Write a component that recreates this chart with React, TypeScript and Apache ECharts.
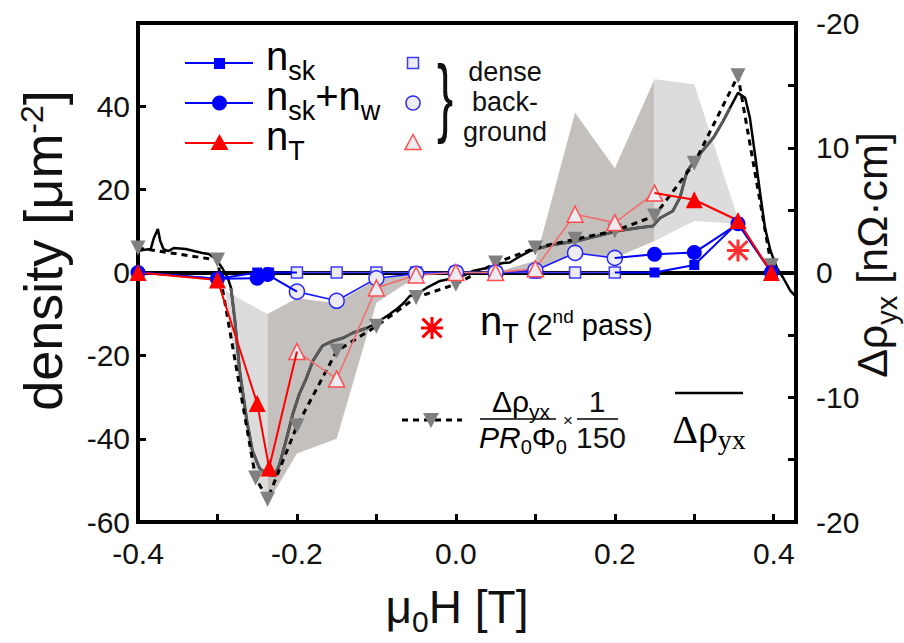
import React, { useEffect, useRef } from 'react';
import * as echarts from 'echarts';

// ---------------- data ----------------
// field values (T) and densities (µm^-2)
const nSkFilledLeft = [[-0.4, 0], [-0.3, -1.5], [-0.25, 0], [-0.235, 0]];
const nSkFilledRight = [[0.25, 0], [0.3, 1.8], [0.355, 12], [0.397, 0]];
const nSkOpen = [[-0.2, 0], [-0.15, 0], [-0.1, 0], [-0.05, 0], [0, 0], [0.05, 0], [0.1, 0], [0.15, 0], [0.2, 0]];

const nSkwFilledLeft = [[-0.4, 0], [-0.3, -1.5], [-0.25, -1.4], [-0.237, -0.5]];
const nSkwFilledRight = [[0.25, 4.4], [0.3, 4.8], [0.355, 11.7], [0.397, 0]];
const nSkwOpen = [[-0.2, -4.6], [-0.15, -6.8], [-0.1, -1.4], [-0.05, -0.3], [0, 0], [0.05, 0], [0.1, 0.5], [0.15, 4.7], [0.2, 3.5]];

const nTFilledLeft = [[-0.4, 0], [-0.3, -1.8], [-0.25, -31.5], [-0.235, -47]];
const nTFilledRight = [[0.3, 17.5], [0.355, 12.5], [0.397, 0]];
const nTOpen = [[-0.2, -19], [-0.15, -25.6], [-0.1, -3.7], [-0.05, -0.6], [0, 0], [0.05, 0], [0.1, 0.9], [0.15, 14], [0.2, 12], [0.25, 19.1]];

const nT2ndPass = [[0.355, 5.3]];

// Δρyx/(P R0 Φ0) × 1/150 (density units)
const rhoScaled = [[-0.4, 5.9], [-0.3, 3], [-0.252, -49.4], [-0.237, -54.5], [-0.2, -36.9], [-0.15, -18.9], [-0.1, -12.9], [-0.05, -6], [0, -2.8], [0.05, 2.3], [0.1, 5.9], [0.15, 8], [0.2, 10], [0.25, 13.6], [0.3, 26.3], [0.355, 47.3], [0.397, 1.6]];

// Δρyx (nΩ·cm), right axis
const rhoCurve = [[-0.4, 1.72], [-0.394, 1.8], [-0.384, 1.88], [-0.38, 2.77], [-0.375, 3.49], [-0.372, 2.53], [-0.368, 1.88], [-0.362, 1.72], [-0.355, 1.96], [-0.34, 1.88], [-0.319, 1.56], [-0.311, 1.48], [-0.302, 1.08], [-0.294, 0.36], [-0.287, -0.44], [-0.283, -1.24], [-0.278, -3.89], [-0.272, -7.9], [-0.263, -11.9], [-0.256, -14.3], [-0.247, -15.7], [-0.237, -16.2], [-0.228, -16.3], [-0.222, -15.4], [-0.213, -13.3], [-0.205, -11.3], [-0.197, -9.74], [-0.188, -8.46], [-0.18, -7.09], [-0.168, -5.89], [-0.155, -5.49], [-0.142, -5.25], [-0.13, -4.85], [-0.112, -4.45], [-0.1, -4.05], [-0.083, -3.33], [-0.074, -2.9], [-0.067, -2.53], [-0.058, -1.88], [-0.048, -1.7], [-0.037, -1.24], [-0.02, -0.68], [-0.008, -0.52], [0.001, -0.44], [0.014, -0.12], [0.021, 0.12], [0.039, 0.36], [0.059, 0.76], [0.068, 0.8], [0.077, 1.16], [0.093, 1.72], [0.106, 1.96], [0.12, 2.2], [0.152, 2.53], [0.178, 2.93], [0.203, 3.33], [0.228, 3.57], [0.248, 3.73], [0.257, 4.37], [0.273, 4.93], [0.282, 6.0], [0.291, 8.14], [0.307, 9.5], [0.324, 10.8], [0.336, 12.1], [0.345, 13.2], [0.355, 14.4], [0.364, 14.0], [0.37, 12.4], [0.377, 9.18], [0.383, 6.29], [0.389, 3.57], [0.396, 1.72], [0.404, 0.36], [0.412, -0.44], [0.421, -1.48], [0.427, -1.88]];
const rhoGrayDip = [[-0.283, -1.24], [-0.278, -3.89], [-0.272, -7.9], [-0.263, -11.9], [-0.256, -14.3], [-0.247, -15.7], [-0.237, -16.2], [-0.228, -16.3], [-0.222, -15.4], [-0.213, -13.3], [-0.205, -11.3], [-0.197, -9.74], [-0.188, -8.46], [-0.18, -7.09], [-0.168, -5.89], [-0.155, -5.49], [-0.142, -5.25], [-0.13, -4.85], [-0.112, -4.45]];
const rhoGrayRise = [[0.106, 1.96], [0.12, 2.2], [0.152, 2.53], [0.178, 2.93], [0.203, 3.33], [0.228, 3.57], [0.248, 3.73], [0.257, 4.37], [0.273, 4.93], [0.282, 6.0], [0.291, 8.14], [0.307, 9.5], [0.324, 10.8], [0.336, 12.1], [0.345, 13.2]];

// shaded ranges [field, low, high]
const bandLightLeft = [[-0.29, -4.4, -4.4], [-0.276, -23.7, -5.9], [-0.256, -47.7, -8.0], [-0.237, -55.5, -10]];
const bandDarkLeft = [[-0.237, -55.5, -10], [-0.2, -43.5, -6.2], [-0.15, -40, -7.4], [-0.1, -7.3, -1.6], [-0.05, -1, -0.3], [0, 0, 0]];
const bandDarkRight = [[0.05, 0, 0], [0.1, 0.5, 2.8], [0.15, 4.7, 38.4], [0.2, 3.5, 25.1], [0.25, 7.6, 46.5]];
const bandLightRight = [[0.25, 7.6, 46.5], [0.3, 12.4, 45.3], [0.355, 11.7, 13], [0.397, 0.3, 0.3]];

// axis ticks
const xTicks = { min: -0.4, max: 0.428, interval: 0.1 };
const yLeftTicks = { min: -60, max: 60, interval: 20 };
const yRightTicks = { min: -20, max: 20, interval: 5 };

// ---------------- styles ----------------
const FONT = '"Liberation Sans", Arial, Helvetica, sans-serif';
const SERIF = '"Liberation Serif", "Times New Roman", serif';
const BLUE = '#0000ff';
const RED = '#ff0000';
const OPEN_FILL = '#ececf2';
const TXT = '#111';

const ASTERISK = 'M8.6,0H11.4V20H8.6Z M0,8.6H20V11.4H0Z M0.41,2.39L2.39,0.41L19.59,17.61L17.61,19.59Z M2.39,19.59L0.41,17.61L17.61,0.41L19.59,2.39Z';
echarts.graphic.registerShape('asteriskShape', echarts.graphic.extendPath(ASTERISK, {}));

function bandSeries(band: number[][], color: string, extra: any = {}) {
  return {
    type: 'custom',
    yAxisIndex: 0,
    silent: true,
    z: 1,
    data: band,
    encode: { x: 0, y: [1, 2] },
    renderItem: (params: any, api: any) => {
      if (params.dataIndex !== 0) return null;
      const upper = band.map((d) => api.coord([d[0], d[2]]));
      const lower = band.map((d) => api.coord([d[0], d[1]])).reverse();
      return { type: 'polygon', shape: { points: upper.concat(lower) }, style: { fill: color } };
    },
    ...extra,
  };
}

function filledSeries(data: any[], symbol: string, size: number, color: string) {
  return {
    type: 'line',
    yAxisIndex: 0,
    data,
    symbol,
    symbolSize: size,
    showAllSymbol: true,
    itemStyle: { color },
    lineStyle: { color, width: 2 },
    z: 6,
  };
}

function openSeries(data: number[][], symbol: string, size: number, border: string, lineColor: string) {
  return {
    type: 'line',
    yAxisIndex: 0,
    data,
    symbol,
    symbolSize: size,
    showAllSymbol: true,
    itemStyle: { color: OPEN_FILL, borderColor: border, borderWidth: 1.5 },
    lineStyle: { color: lineColor, width: 1.6 },
    z: 5,
  };
}

const hidden = (p: number[]) => ({ value: p, symbol: 'none' });

const sub = (size: number, pad: number, extra: any = {}) => ({ fontSize: size, fontFamily: FONT, color: TXT, verticalAlign: 'top', padding: [pad, 0, 0, 0], ...extra });

function buildOption() {
  const series: any[] = [
    bandSeries(bandLightLeft, '#dcdcdc'),
    bandSeries(bandDarkLeft, '#c4c0be', {
      markLine: {
        silent: true,
        symbol: 'none',
        label: { show: false },
        lineStyle: { color: '#000', width: 4, type: 'solid' },
        data: [{ yAxis: 0 }],
      },
    }),
    bandSeries(bandDarkRight, '#c4c0be'),
    bandSeries(bandLightRight, '#dcdcdc'),
    { type: 'line', yAxisIndex: 1, data: rhoCurve, showSymbol: false, lineStyle: { color: '#000', width: 2.5 }, z: 3 },
    { type: 'line', yAxisIndex: 1, data: rhoGrayDip, showSymbol: false, lineStyle: { color: '#595959', width: 3 }, z: 3 },
    { type: 'line', yAxisIndex: 1, data: rhoGrayRise, showSymbol: false, lineStyle: { color: '#595959', width: 3 }, z: 3 },
    {
      type: 'line', yAxisIndex: 0, data: rhoScaled, symbol: 'triangle', symbolRotate: 180, symbolSize: 15, showAllSymbol: true,
      itemStyle: { color: '#808080' }, lineStyle: { color: '#000', width: 3, type: [6, 5] }, z: 4,
    },
    openSeries(nSkOpen, 'rect', 11, '#3c3cff', '#3c3cff'),
    openSeries(nSkwOpen, 'circle', 15, '#2a2aff', '#1a1aff'),
    openSeries(nTOpen, 'triangle', 16, '#ff4c4c', '#f07070'),
    filledSeries([...nSkFilledLeft, hidden(nSkOpen[0])], 'rect', 10, BLUE),
    filledSeries([hidden(nSkOpen[nSkOpen.length - 1]), ...nSkFilledRight], 'rect', 10, BLUE),
    filledSeries([...nSkwFilledLeft, hidden(nSkwOpen[0])], 'circle', 15, BLUE),
    filledSeries([hidden(nSkwOpen[nSkwOpen.length - 1]), ...nSkwFilledRight], 'circle', 15, BLUE),
    filledSeries([...nTFilledLeft, hidden(nTOpen[0])], 'triangle', 17, RED),
    filledSeries([hidden(nTOpen[nTOpen.length - 1]), ...nTFilledRight], 'triangle', 17, RED),
    {
      type: 'scatter', yAxisIndex: 0, data: nT2ndPass, symbol: 'path://' + ASTERISK, symbolSize: 22,
      itemStyle: { color: RED }, z: 7,
    },
  ];

  const graphic: any[] = [
    // filled legend
    { type: 'line', shape: { x1: 185, y1: 63, x2: 253, y2: 63 }, style: { stroke: BLUE, lineWidth: 2 } },
    { type: 'rect', shape: { x: 214, y: 58, width: 11, height: 11 }, style: { fill: BLUE } },
    { type: 'line', shape: { x1: 185, y1: 103, x2: 253, y2: 103 }, style: { stroke: BLUE, lineWidth: 2 } },
    { type: 'circle', shape: { cx: 219.5, cy: 103, r: 7.5 }, style: { fill: BLUE } },
    { type: 'line', shape: { x1: 185, y1: 143, x2: 253, y2: 143 }, style: { stroke: RED, lineWidth: 2 } },
    { type: 'polygon', shape: { points: [[219.5, 134], [210.5, 150], [228.5, 150]] }, style: { fill: RED } },
    {
      type: 'text', x: 266, y: 36,
      style: { text: '{m|n}{s|sk}', verticalAlign: 'top', rich: { m: sub(40, 0), s: sub(27, 21) } },
    },
    {
      type: 'text', x: 266, y: 76,
      style: { text: '{m|n}{s|sk}{m|+n}{s|w}', verticalAlign: 'top', rich: { m: sub(40, 0), s: sub(27, 21) } },
    },
    {
      type: 'text', x: 266, y: 116,
      style: { text: '{m|n}{s|T}', verticalAlign: 'top', rich: { m: sub(40, 0), s: sub(27, 21) } },
    },
    // open legend
    { type: 'rect', shape: { x: 407.5, y: 57.5, width: 11, height: 11 }, style: { fill: OPEN_FILL, stroke: '#3c3cff', lineWidth: 1.5 } },
    { type: 'circle', shape: { cx: 413, cy: 103, r: 7 }, style: { fill: OPEN_FILL, stroke: '#2a2aff', lineWidth: 1.5 } },
    { type: 'polygon', shape: { points: [[413, 134.5], [405, 149.5], [421, 149.5]] }, style: { fill: OPEN_FILL, stroke: '#ff4c4c', lineWidth: 1.5 } },
    { type: 'text', x: 445, y: 95.5, scaleX: 0.55, style: { text: '}', fontSize: 88, fontFamily: FONT, fill: TXT, align: 'center', verticalAlign: 'middle' } },
    { type: 'text', x: 505, y: 57, style: { text: 'dense\nback-\nground', fontSize: 27, lineHeight: 30, fontFamily: FONT, fill: TXT, align: 'center', verticalAlign: 'top' } },
    // 2nd pass
    { type: 'asteriskShape', x: 421, y: 317, scaleX: 1.1, scaleY: 1.1, style: { fill: RED } },
    {
      type: 'text', x: 480, y: 301,
      style: {
        text: '{m|n}{s|T}{r| (2}{p|nd}{r| pass)}', verticalAlign: 'top',
        rich: { m: sub(40, 0), s: sub(27, 19), r: sub(29, 9), p: sub(19, 6) },
      },
    },
    // dashed legend
    { type: 'line', shape: { x1: 402, y1: 420, x2: 462, y2: 420 }, style: { stroke: '#000', lineWidth: 3, lineDash: [6, 5] } },
    { type: 'polygon', shape: { points: [[423, 413], [439, 413], [431, 428]] }, style: { fill: '#808080' } },
    {
      type: 'text', x: 521, y: 386.5,
      style: { text: '{m|Δρ}{s|yx}', align: 'center', verticalAlign: 'top', rich: { m: sub(30, 0), s: sub(21, 14.6) } },
    },
    { type: 'line', shape: { x1: 480, y1: 419, x2: 556, y2: 419 }, style: { stroke: '#000', lineWidth: 1.5 } },
    {
      type: 'text', x: 523, y: 422.5,
      style: {
        text: '{i|PR}{s|0}{m|Φ}{s|0}', align: 'center', verticalAlign: 'top',
        rich: { i: sub(30, 0, { fontStyle: 'italic' }), m: sub(30, 0), s: sub(20, 14) },
      },
    },
    { type: 'text', x: 568, y: 420, style: { text: '×', fontSize: 17, fontFamily: FONT, fill: TXT, align: 'center', verticalAlign: 'middle' } },
    { type: 'text', x: 597, y: 386.5, style: { text: '1', fontSize: 30, fontFamily: FONT, fill: TXT, align: 'center', verticalAlign: 'top' } },
    { type: 'line', shape: { x1: 577, y1: 419, x2: 618, y2: 419 }, style: { stroke: '#000', lineWidth: 1.5 } },
    { type: 'text', x: 601, y: 422.5, style: { text: '150', fontSize: 30, fontFamily: FONT, fill: TXT, align: 'center', verticalAlign: 'top' } },
    { type: 'line', shape: { x1: 675, y1: 393, x2: 743, y2: 393 }, style: { stroke: '#000', lineWidth: 2.5 } },
    {
      type: 'text', x: 709, y: 409,
      style: {
        text: '{m|Δρ}{s|yx}', align: 'center', verticalAlign: 'top',
        rich: { m: sub(40, 0, { fontFamily: SERIF }), s: sub(28, 16, { fontFamily: SERIF }) },
      },
    },
  ];

  const axisCommon = {
    axisLine: { show: true, onZero: false, lineStyle: { color: '#000', width: 4 } },
    axisTick: { show: true, inside: true, length: 8, lineStyle: { color: '#000', width: 3 } },
    splitLine: { show: false },
    nameMoveOverlap: false,
  };

  return {
    animation: false,
    backgroundColor: '#fff',
    grid: {
      left: 138, right: 108, top: 23, bottom: 121, show: true, borderColor: '#000', borderWidth: 4,
      backgroundColor: 'transparent', containLabel: false, outerBoundsMode: 'none',
    },
    xAxis: {
      type: 'value',
      ...xTicks,
      ...axisCommon,
      axisLabel: {
        fontSize: 30, fontFamily: FONT, color: TXT, margin: 16,
        formatter: (v: number) => {
          const k = Math.round(v * 10);
          if (Math.abs(v * 10 - k) > 1e-6 || k % 2 !== 0) return '';
          return (k / 10).toFixed(1);
        },
      },
      name: '{m|μ}{s|0}{m|H [T]}',
      nameLocation: 'middle',
      nameGap: 62,
      nameTextStyle: { padding: [0, 20, 0, 0], verticalAlign: 'top', rich: { m: sub(46, 0), s: sub(30, 22) } },
    },
    yAxis: [
      {
        type: 'value',
        ...yLeftTicks,
        position: 'left',
        ...axisCommon,
        axisLabel: {
          fontSize: 30, fontFamily: FONT, color: TXT, margin: 8,
          formatter: (v: number) => (v === 60 ? '' : String(v)),
        },
        name: '{m|density [μm}{p|-2}{m|]}',
        nameLocation: 'middle',
        nameRotate: 90,
        nameGap: 68,
        nameTextStyle: { padding: [0, 0, 0, 44], rich: { m: sub(54, 0), p: sub(32, 0) } },
      },
      {
        type: 'value',
        ...yRightTicks,
        position: 'right',
        ...axisCommon,
        axisLabel: {
          fontSize: 30, fontFamily: FONT, color: TXT, margin: 20,
          formatter: (v: number) => (v % 10 !== 0 ? '' : v === 20 ? '-20' : String(v)),
        },
        name: '{m|Δρ}{s|yx}{m| [nΩ·cm]}',
        nameLocation: 'middle',
        nameRotate: 90,
        nameGap: 54,
        nameTextStyle: { padding: [0, 0, 0, 35], rich: { m: sub(43, 0), s: sub(29, 22) } },
      },
    ],
    series,
    graphic,
  };
}

export default function App() {
  const ref = useRef<HTMLDivElement>(null);
  useEffect(() => {
    if (!ref.current) return;
    const chart = echarts.init(ref.current, null, { renderer: 'svg' });
    chart.setOption(buildOption() as any);
    return () => chart.dispose();
  }, []);
  return <div ref={ref} style={{ position: 'fixed', left: 0, top: 0, width: 904, height: 643, background: '#fff' }} />;
}
